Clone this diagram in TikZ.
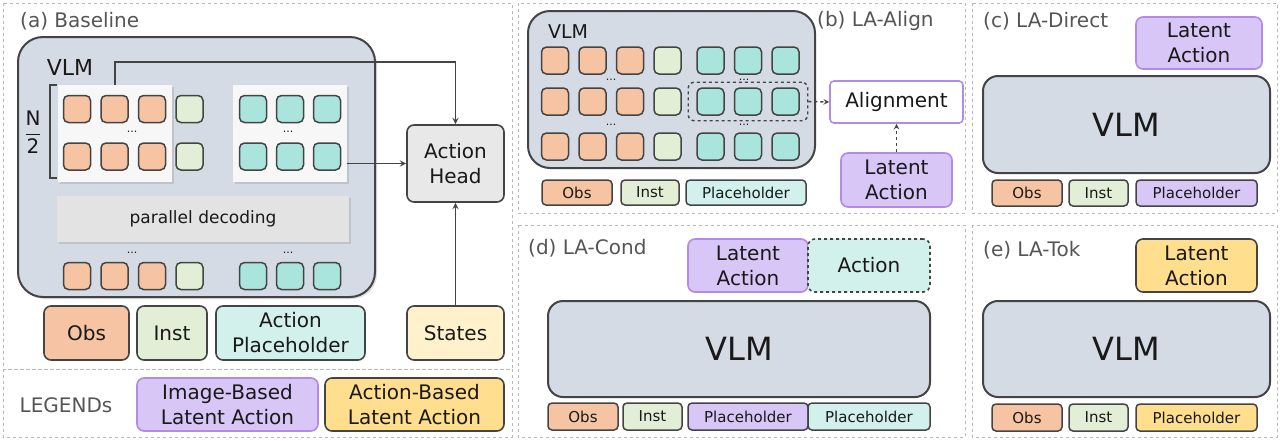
\documentclass[tikz,border=0pt]{standalone}
\usepackage{fontspec}
\setmainfont{DejaVu Sans}
\usetikzlibrary{positioning,arrows,shadows,fit}

\definecolor{obsc}{HTML}{F6C4A2}
\definecolor{instc}{HTML}{E2EFD6}
\definecolor{tealc}{HTML}{A9E5DD}
\definecolor{phc}{HTML}{D3F1EC}
\definecolor{purpc}{HTML}{D8C6F6}
\definecolor{purpd}{HTML}{B38AE6}
\definecolor{yelc}{HTML}{FFDF8E}
\definecolor{statec}{HTML}{FFF1CC}
\definecolor{vlmc}{HTML}{D5DBE4}
\definecolor{edgec}{HTML}{444444}
\definecolor{titlec}{HTML}{555555}
\definecolor{framec}{HTML}{B8B8B8}

\tikzset{
  panel/.style={draw=framec, dashed, line width=0.8pt},
  title/.style={anchor=west, text=titlec, inner sep=0pt, font=\fontsize{20}{22}\selectfont},
  vlm/.style={draw=edgec, fill=vlmc, line width=2pt, rounded corners=18pt, inner sep=0pt},
  grp/.style={fill=gray!6, inner sep=0pt, drop shadow={opacity=0.25, shadow xshift=1.5pt, shadow yshift=-1.5pt}},
  tok/.style={draw=edgec, line width=1.5pt, rounded corners=5pt, minimum size=27pt, inner sep=0pt},
  lbl/.style={draw=edgec, line width=1.6pt, rounded corners=7pt, inner sep=0pt, align=center, font=\fontsize{20}{25}\selectfont},
  tag/.style={draw=edgec, line width=1.5pt, rounded corners=4pt, inner sep=0pt, font=\fontsize{15}{17}\selectfont},
  dots/.style={font=\fontsize{11}{11}\selectfont, inner sep=0pt},
  big/.style={font=\fontsize{32}{34}\selectfont},
  link/.style={->, edgec, line width=1.8pt},
}

\begin{document}
\begin{tikzpicture}[x=1pt,y=-1pt,>=stealth,text=black!90]
    \useasboundingbox (0,0) rectangle (1280,440);

    % frames
    \draw[panel] (3,3) rectangle (512,369);
    \draw[panel] (3,369) rectangle (512,437);
    \draw[panel] (518,3) rectangle (965,213);
    \draw[panel] (972,3) rectangle (1277,213);
    \draw[panel] (518,225) rectangle (965,437);
    \draw[panel] (972,225) rectangle (1277,437);

    % (a) baseline
    \node[title] (atitle) at (20,21) {(a) Baseline};
    \node[vlm, rounded corners=25pt, minimum width=357pt, minimum height=260pt,
          drop shadow={opacity=0.25, shadow xshift=2pt, shadow yshift=-2pt}] (avlm) at (196.5,167) {};
    \node[font=\fontsize{22}{24}\selectfont] (avlmlbl) at (70,67) {VLM};
    \node[grp, minimum width=114pt, minimum height=97pt] (agrpL) at (115,133.5) {};
    \node[grp, minimum width=114pt, minimum height=97pt] (agrpR) at (290,133.5) {};
    \node[grp, fill=gray!22, minimum width=292pt, minimum height=46pt,
          font=\fontsize{17}{19}\selectfont] (abar) at (203,219) {parallel decoding};
    \foreach \x/\c [count=\i] in {77/obsc,114.5/obsc,152/obsc,189.5/instc,253/tealc,290/tealc,327/tealc}
      \foreach \y/\r in {109/t,156.5/m,276/b}
        \node[tok, fill=\c] (a\r\i) at (\x,\y) {};
    \node[dots] (adot1) at (132,132) {...};
    \node[dots] (adot2) at (288,132) {...};
    \node[dots] (adot3) at (132,253) {...};
    \node[dots] (adot4) at (288,253) {...};
    \draw[edgec, line width=1.8pt] (57,85) -- (50,85) -- (50,178) -- (57,178);
    \node[font=\fontsize{20}{22}\selectfont] (ahalf) at (33,132) {$\displaystyle\frac{\textrm{N}}{\textrm{2}}$};

    \node[lbl, fill=gray!18, minimum width=97pt, minimum height=77pt] (ahead) at (455.5,163.5) {Action\\Head};
    \node[lbl, fill=statec, minimum width=97pt, minimum height=54pt] (astates) at (455.5,333) {States};
    \node[lbl, fill=obsc, minimum width=85pt, minimum height=54pt] (aobs) at (86.5,333) {Obs};
    \node[lbl, fill=instc, minimum width=70pt, minimum height=54pt] (ainst) at (172,333) {Inst};
    \node[lbl, fill=phc, minimum width=149pt, minimum height=54pt] (aph) at (290.5,333) {Action\\Placeholder};

    \draw[link] (agrpL.north) -- ++(0,-23) -| (ahead.north);
    \draw[link] (agrpR.east |- ahead.west) -- (ahead.west);
    \draw[link] (astates) -- (ahead);

    % legend
    \node[text=titlec, font=\fontsize{20}{22}\selectfont] (legend) at (66,405) {LEGENDs};
    \node[lbl, draw=purpd, fill=purpc, minimum width=181pt, minimum height=53pt] (limg) at (227.5,404.5) {Image-Based\\Latent Action};
    \node[lbl, fill=yelc, minimum width=179pt, minimum height=53pt] (lact) at (414.5,404.5) {Action-Based\\Latent Action};

    % (b) LA-Align
    \node[vlm, rounded corners=22pt, minimum width=287pt, minimum height=157pt] (bvlm) at (671.5,89.5) {};
    \node[font=\fontsize{19}{21}\selectfont] (bvlmlbl) at (568,32) {VLM};
    \node[title] (btitle) at (817,21) {(b) LA-Align};
    \foreach \x/\c [count=\i] in {555/obsc,592.5/obsc,630/obsc,667.5/instc,710.5/tealc,748/tealc,785.5/tealc}
      \foreach \y/\r in {60.5/t,101.5/m,146.5/b}
        \node[tok, fill=\c] (b\r\i) at (\x,\y) {};
    \node[dots] (bdot1) at (611,80) {...};
    \node[dots] (bdot2) at (744,80) {...};
    \node[dots] (bdot3) at (611,125) {...};
    \node[dots] (bdot4) at (744,125) {...};
    \node[draw=edgec, dashed, line width=1.4pt, rounded corners=6pt, inner xsep=8pt, inner ysep=5pt,
          fit=(bm5)(bm7)] (bfocus) {};
    \node[lbl, draw=purpd, fill=white, rounded corners=4pt, minimum width=133pt, minimum height=42pt] (balign) at (896.5,102) {Alignment};
    \node[lbl, draw=purpd, fill=purpc, minimum width=111pt, minimum height=54pt] (blat) at (896.5,180) {Latent\\Action};
    \draw[link, dashed, line width=1.5pt] (bfocus.east) -- (balign.west);
    \draw[link, dashed, line width=1.5pt] (blat) -- (balign);
    \node[tag, fill=obsc, minimum width=70pt, minimum height=25pt] (bobs) at (577,192.5) {Obs};
    \node[tag, fill=instc, minimum width=58pt, minimum height=25pt] (binst) at (650,192.5) {Inst};
    \node[tag, fill=phc, minimum width=120pt, minimum height=25pt] (bph) at (746,192.5) {Placeholder};

    % (c) LA-Direct
    \node[title] (ctitle) at (983,21) {(c) LA-Direct};
    \node[lbl, draw=purpd, fill=purpc, minimum width=126pt, minimum height=52pt] (clat) at (1199,43) {Latent\\Action};
    \node[vlm, big, rounded corners=15pt, minimum width=287pt, minimum height=97pt] (cvlm) at (1126.5,124.5) {VLM};
    \node[tag, fill=obsc, minimum width=70pt, minimum height=26pt] (cobs) at (1027,193) {Obs};
    \node[tag, fill=instc, minimum width=59pt, minimum height=26pt] (cinst) at (1098.5,193) {Inst};
    \node[tag, fill=purpc, minimum width=121pt, minimum height=26pt] (cph) at (1196.5,193) {Placeholder};

    % (d) LA-Cond
    \node[title] (dtitle) at (528,248) {(d) LA-Cond};
    \node[lbl, draw=purpd, fill=purpc, minimum width=120pt, minimum height=53pt] (dlat) at (748,265.5) {Latent\\Action};
    \node[lbl, dashed, fill=phc, minimum width=122pt, minimum height=53pt] (dact) at (869,265.5) {Action};
    \node[vlm, big, rounded corners=15pt, minimum width=382pt, minimum height=96pt] (dvlm) at (739,349) {VLM};
    \node[tag, fill=obsc, minimum width=70pt, minimum height=27pt] (dobs) at (583,416.5) {Obs};
    \node[tag, fill=instc, minimum width=59pt, minimum height=27pt] (dinst) at (652.5,416.5) {Inst};
    \node[tag, fill=purpc, minimum width=120pt, minimum height=27pt] (dph1) at (748,416.5) {Placeholder};
    \node[tag, fill=phc, minimum width=122pt, minimum height=27pt] (dph2) at (869,416.5) {Placeholder};

    % (e) LA-Tok
    \node[title] (etitle) at (983,250) {(e) LA-Tok};
    \node[lbl, fill=yelc, minimum width=121pt, minimum height=53pt] (elat) at (1196.5,265.5) {Latent\\Action};
    \node[vlm, big, rounded corners=15pt, minimum width=287pt, minimum height=96pt] (evlm) at (1126.5,349) {VLM};
    \node[tag, fill=obsc, minimum width=70pt, minimum height=27pt] (eobs) at (1027,417.5) {Obs};
    \node[tag, fill=instc, minimum width=59pt, minimum height=27pt] (einst) at (1098.5,417.5) {Inst};
    \node[tag, fill=yelc, minimum width=121pt, minimum height=27pt] (eph) at (1196.5,417.5) {Placeholder};
\end{tikzpicture}
\end{document}
